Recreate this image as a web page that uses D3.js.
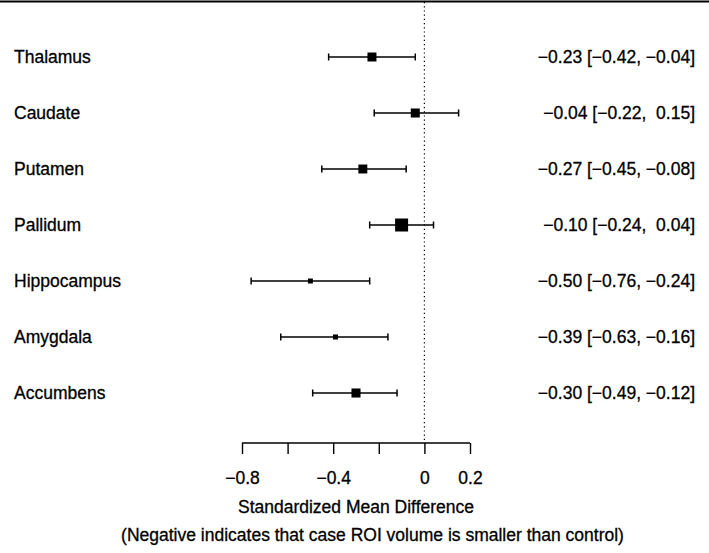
<!DOCTYPE html>
<html>
<head>
<meta charset="utf-8">
<script src="https://cdn.jsdelivr.net/npm/d3@7"></script>
<style>
  html, body { margin: 0; padding: 0; background: #fff; }
  svg { display: block; }
  text { font-family: "Liberation Sans", Arial, sans-serif; fill: #000; stroke: #000; stroke-width: 0.3px; }
</style>
</head>
<body>
<svg id="chart" width="709" height="553"></svg>
<script>
const regions   = ["Thalamus", "Caudate", "Putamen", "Pallidum", "Hippocampus", "Amygdala", "Accumbens"];
const estimates = [-0.23, -0.04, -0.27, -0.10, -0.50, -0.39, -0.30];
const lower     = [-0.42, -0.22, -0.45, -0.24, -0.76, -0.63, -0.49];
const upper     = [-0.04,  0.15, -0.08,  0.04, -0.24, -0.16, -0.12];
const weights   = [12.4, 12.5, 12.3, 26.0, 3.8, 3.9, 12.6];
const xTicks    = [-0.8, -0.6, -0.4, -0.2, 0, 0.2];
const xTickLabels = ["−0.8", "", "−0.4", "", "0", "0.2"];
const xTitle    = "Standardized Mean Difference";
const note      = "(Negative indicates that case ROI volume is smaller than control)";

const svg = d3.select("#chart");
const W = 709, H = 553;
const FS = 17.5;

const x = d3.scaleLinear().domain([-0.8, 0.2]).range([242, 470]);
const y = d3.scalePoint().domain(regions).range([57, 393]);
const s = d3.scaleSqrt().domain([0, d3.max(weights)]).range([0, 13]);

const rows = regions.map((r, i) => ({ r, est: estimates[i], lo: lower[i], hi: upper[i], w: weights[i] }));

// top border line
svg.append("line")
  .attr("x1", 0).attr("x2", W).attr("y1", 1.5).attr("y2", 1.5)
  .attr("stroke", "#000").attr("stroke-width", 2);

// dotted reference line at 0
svg.append("line")
  .attr("x1", x(0)).attr("x2", x(0)).attr("y1", 2).attr("y2", 443)
  .attr("stroke", "#000").attr("stroke-width", 1.2)
  .attr("stroke-dasharray", "1.2,3");

// x axis
const axisG = svg.append("g").attr("transform", "translate(0,443)");
const axis = d3.axisBottom(x)
  .tickValues(xTicks)
  .tickSize(11)
  .tickPadding(18)
  .tickSizeOuter(0)
  .tickFormat((d, i) => xTickLabels[i]);
axisG.call(axis);
axisG.select(".domain").attr("stroke", "#000").attr("stroke-width", 1.4)
  .attr("d", `M${x(-0.8)},0H${x(0.2)}`);
axisG.selectAll(".tick line").attr("stroke", "#000").attr("stroke-width", 1.4);
axisG.selectAll(".tick text")
  .attr("font-size", FS)
  .attr("font-family", "Liberation Sans, Arial, sans-serif")
  .attr("fill", "#000");

// axis titles
svg.append("text")
  .attr("x", (x(-0.8) + x(0.2)) / 2).attr("y", 507).attr("dy", "0.35em")
  .attr("text-anchor", "middle").attr("font-size", FS)
  .text(xTitle);
svg.append("text")
  .attr("x", 372.5).attr("y", 535).attr("dy", "0.35em")
  .attr("text-anchor", "middle").attr("font-size", FS)
  .text(note);

// CI lines
const g = svg.append("g");
g.selectAll("line.ci").data(rows).join("line")
  .attr("class", "ci")
  .attr("x1", d => x(d.lo)).attr("x2", d => x(d.hi))
  .attr("y1", d => y(d.r)).attr("y2", d => y(d.r))
  .attr("stroke", "#000").attr("stroke-width", 1.5);
g.selectAll("line.capL").data(rows).join("line")
  .attr("class", "capL")
  .attr("x1", d => x(d.lo)).attr("x2", d => x(d.lo))
  .attr("y1", d => y(d.r) - 3.5).attr("y2", d => y(d.r) + 3.5)
  .attr("stroke", "#000").attr("stroke-width", 1.5);
g.selectAll("line.capR").data(rows).join("line")
  .attr("class", "capR")
  .attr("x1", d => x(d.hi)).attr("x2", d => x(d.hi))
  .attr("y1", d => y(d.r) - 3.5).attr("y2", d => y(d.r) + 3.5)
  .attr("stroke", "#000").attr("stroke-width", 1.5);
g.selectAll("rect.pt").data(rows).join("rect")
  .attr("class", "pt")
  .attr("x", d => x(d.est) - s(d.w) / 2)
  .attr("y", d => y(d.r) - s(d.w) / 2)
  .attr("width", d => s(d.w)).attr("height", d => s(d.w))
  .attr("fill", "#000");

// left labels
svg.selectAll("text.lab").data(rows).join("text")
  .attr("class", "lab")
  .attr("x", 14).attr("y", d => y(d.r)).attr("dy", "0.35em")
  .attr("font-size", FS)
  .text(d => d.r);

// right labels
const f = d3.format(".2f");
const fs = d3.format(" .2f");
svg.selectAll("text.est").data(rows).join("text")
  .attr("class", "est")
  .attr("x", 695).attr("y", d => y(d.r)).attr("dy", "0.35em")
  .attr("text-anchor", "end")
  .attr("font-size", FS)
  .style("white-space", "pre")
  .attr("xml:space", "preserve")
  .text(d => `${f(d.est)} [${fs(d.lo)}, ${fs(d.hi)}]`);
</script>
</body>
</html>
